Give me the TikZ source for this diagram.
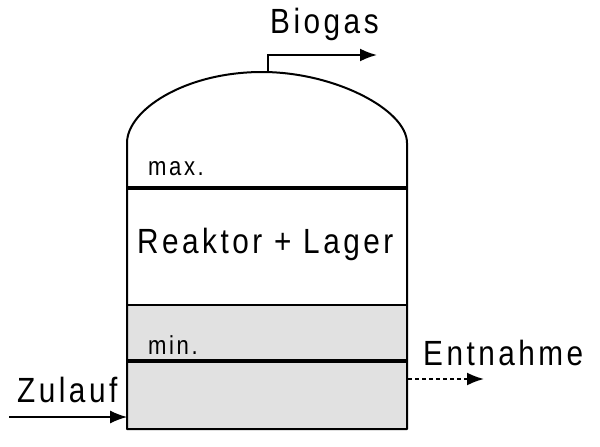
\documentclass[tikz,border=0pt]{standalone}
\usepackage{fontspec}
\setmainfont{Liberation Sans}[FakeStretch=0.85,LetterSpace=10]
\usetikzlibrary{arrows.meta}
\definecolor{fillgray}{RGB}{225,225,225}
\tikzset{
  wall/.style={line width=2pt},
  level/.style={line width=3.2pt},
  bigtext/.style={anchor=base west,inner sep=0pt,font=\fontsize{35}{40}\selectfont},
  smalltext/.style={anchor=base west,inner sep=0pt,font=\fontsize{26}{30}\selectfont},
  flowarrow/.style={-{Latex[length=17pt,width=13pt]}},
}
\begin{document}
\begin{tikzpicture}[x=1pt,y=-1pt]
\useasboundingbox (0,0) rectangle (600,447);
% coordinates
\coordinate (TL) at (127,143);
\coordinate (TR) at (407,143);
\coordinate (top) at (262,72);
\coordinate (GL) at (127,305);
\coordinate (GR) at (407,305);
\coordinate (BL) at (127,429);
\coordinate (BR) at (407,429);
\coordinate (pipe) at (268,72.5);
\coordinate (pipeup) at (268,55);
\coordinate (biogasend) at (377,55);
\coordinate (zustart) at (9,417);
\coordinate (zuend) at (127,417);
\coordinate (entstart) at (408,379);
\coordinate (entend) at (484,379);
% gray lower part
\fill[fillgray] (GL) rectangle (BR);
% dome and walls
\draw[wall,line join=round] (BL) -- (TL) .. controls (127,110) and (185,72) .. (top)
  .. controls (335,72) and (407,110) .. (TR) -- (BR) -- cycle;
\draw[wall] (GL) -- (GR);
% level lines
\coordinate (maxL) at (127,188);
\coordinate (maxR) at (407,188);
\coordinate (minL) at (127,361);
\coordinate (minR) at (407,361);
\draw[level] (maxL) -- (maxR);
\draw[level] (minL) -- (minR);
% texts
\node[bigtext] (biogas) at (270,34) {Biogas};
\node[bigtext] (reaktor) at (137,253) {Reaktor + Lager};
\node[bigtext] (zulauf) at (17,402) {Zulauf};
\node[bigtext] (entnahme) at (423,365) {Entnahme};
\node[smalltext] (max) at (148,175) {max.};
\node[smalltext] (min) at (148,354) {min.};
% arrows
\draw[wall,flowarrow] (pipe) -- (pipeup) -- (biogasend);
\draw[line width=1.2pt,flowarrow] (zustart) -- (zuend);
\draw[line width=2pt,dash pattern=on 4pt off 3pt,flowarrow] (entstart) -- (entend);
\end{tikzpicture}
\end{document}
